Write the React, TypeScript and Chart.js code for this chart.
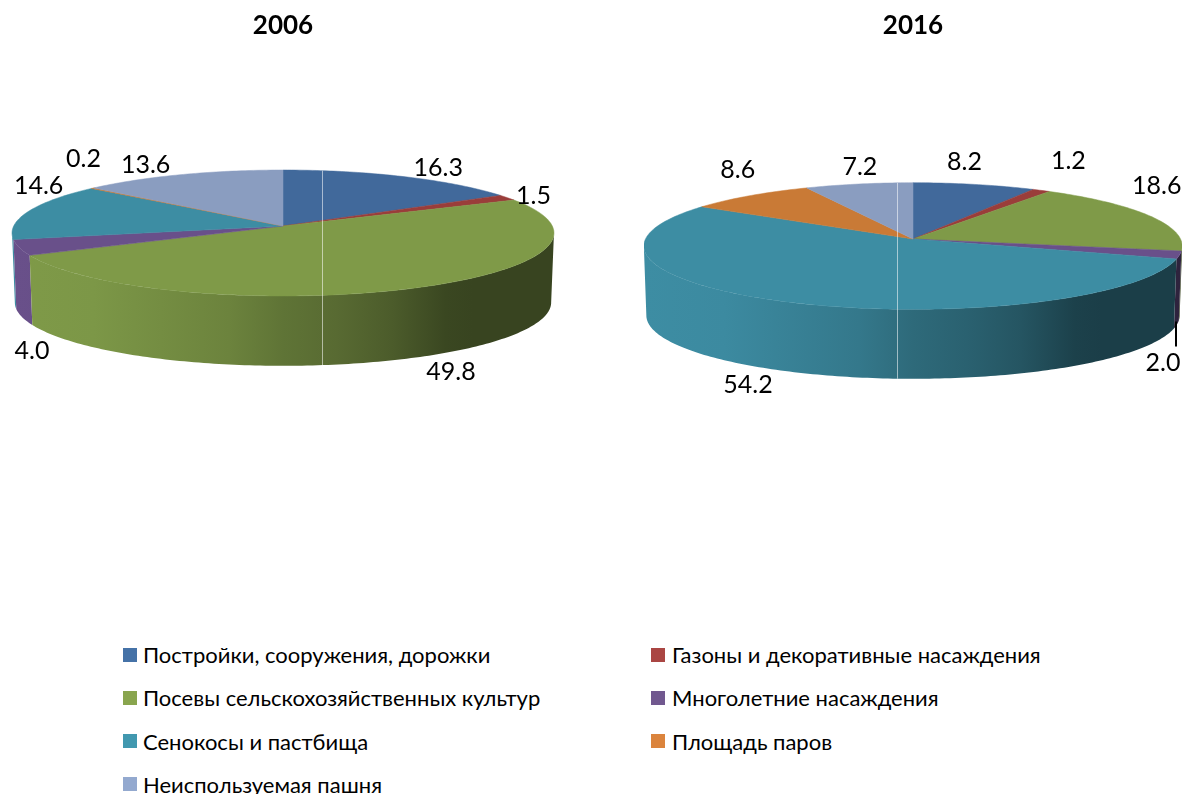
import React, { useEffect, useRef } from "react";
import { Chart, registerables } from "chart.js";

Chart.register(...registerables);

const categories = [
  "Постройки, сооружения, дорожки",
  "Газоны и декоративные насаждения",
  "Посевы сельскохозяйственных культур",
  "Многолетние насаждения",
  "Сенокосы и пастбища",
  "Площадь паров",
  "Неиспользуемая пашня",
];
const values2006 = [16.3, 1.5, 49.8, 4.0, 14.6, 0.2, 13.6];
const values2016 = [8.2, 1.2, 18.6, 2.0, 54.2, 8.6, 7.2];
const faceColors = ["#41699B", "#9A3D3A", "#7F9A48", "#69508A", "#3D8DA3", "#C97A36", "#8A9DC0"];
const legendColors = ["#4572A7", "#AA4643", "#89A54E", "#71588F", "#4198AF", "#DB843D", "#93A9CF"];

const labelDx2006 = [35, 26, 37, 10, 10, -9, -36];
const labelDy2006 = [-9, -2, 14, 34, -25, -29, -10];
const labelDx2016 = [-10, 27, 7, -14, -38, -12, 1];
const labelDy2016 = [-22, -29, -30, 38, 14, -26, -17];

const shadeStops: [number, number][] = [
  [0, 1], [0.15, 0.98], [0.4, 0.85], [0.5, 0.75], [0.6, 0.69], [0.7, 0.6], [0.8, 0.46], [0.85, 0.44], [1, 0.44],
];

const FONT = "Lato, Carlito, 'Open Sans', sans-serif";
const PERSP = 0.111;

type PieCfg = {
  y0: number; R: number; K: number; y0b: number; Rb: number; Kb: number;
  dx: number[]; dy: number[]; seam: number; leader: number;
};

function shade(hex: string, f: number) {
  const n = parseInt(hex.slice(1), 16);
  const c = [(n >> 16) & 255, (n >> 8) & 255, n & 255].map((v) => Math.round(v * f));
  return `rgb(${c[0]},${c[1]},${c[2]})`;
}

function makePlugin(cfg: PieCfg) {
  return {
    id: "pie3d",
    beforeDatasetsDraw(chart: any) {
      const ctx = chart.ctx;
      const arcs = chart.getDatasetMeta(0).data;
      const x0 = arcs[0].x;
      const colors = chart.data.datasets[0].backgroundColor;
      const values = chart.data.datasets[0].data;
      const proj = (t: number, bottom: boolean) => {
        const u = Math.sin(t), v = -Math.cos(t), d = 1 - PERSP * v;
        return bottom
          ? { x: x0 + (cfg.Rb * u) / d, y: cfg.y0b + (cfg.Kb * v) / d }
          : { x: x0 + (cfg.R * u) / d, y: cfg.y0 + (cfg.K * v) / d };
      };
      const range = (a: any) => [a.startAngle + Math.PI / 2, a.endAngle + Math.PI / 2];
      const sweep = (a: number, b: number) => {
        const n = Math.max(2, Math.ceil(((b - a) * 180) / Math.PI));
        return Array.from({ length: n + 1 }, (_, i) => a + ((b - a) * i) / n);
      };
      const visA = Math.PI / 2 + Math.asin(PERSP);
      const visB = 2 * Math.PI - visA;
      const left = x0 - cfg.R - 2;
      const right = x0 + cfg.R + 2;

      // walls, outermost first
      const order = arcs
        .map((a: any, i: number) => ({ a, i }))
        .sort((p: any, q: any) => {
          const m = (e: any) => Math.abs((e.startAngle + e.endAngle) / 2 + Math.PI / 2 - Math.PI);
          return m(q.a) - m(p.a);
        });
      for (const { a, i } of order) {
        const [s, e] = range(a);
        const from = Math.max(s, visA), to = Math.min(e, visB);
        if (to <= from) continue;
        const g = ctx.createLinearGradient(left, 0, right, 0);
        shadeStops.forEach(([p, f]) => g.addColorStop(p, shade(colors[i], f)));
        const ts = sweep(from, to);
        ctx.beginPath();
        ts.forEach((t, k) => {
          const p = proj(t, false);
          k ? ctx.lineTo(p.x, p.y) : ctx.moveTo(p.x, p.y);
        });
        ts.slice().reverse().forEach((t) => {
          const p = proj(t, true);
          ctx.lineTo(p.x, p.y);
        });
        ctx.closePath();
        ctx.fillStyle = g;
        ctx.fill();
      }

      // top faces
      arcs.forEach((a: any, i: number) => {
        const [s, e] = range(a);
        ctx.beginPath();
        ctx.moveTo(x0, cfg.y0);
        sweep(s, e).forEach((t) => {
          const p = proj(t, false);
          ctx.lineTo(p.x, p.y);
        });
        ctx.closePath();
        ctx.fillStyle = colors[i];
        ctx.strokeStyle = colors[i];
        ctx.lineWidth = 0.5;
        ctx.fill();
        ctx.stroke();
      });

      // thin vertical seam
      const sx = x0 + cfg.seam;
      let top = Infinity, bot = -Infinity;
      sweep(0, Math.PI * 2).concat(sweep(0, Math.PI * 2).map((t) => t + 0.008)).forEach((t) => {
        const a = proj(t, false), b = proj(t, true);
        if (Math.abs(a.x - sx) < 3) top = Math.min(top, a.y);
        if (Math.abs(b.x - sx) < 3) bot = Math.max(bot, b.y);
      });
      ctx.strokeStyle = "rgba(255,255,255,0.55)";
      ctx.lineWidth = 1;
      ctx.beginPath();
      ctx.moveTo(Math.round(sx) + 0.5, top);
      ctx.lineTo(Math.round(sx) + 0.5, bot);
      ctx.stroke();

      // value labels
      ctx.font = `25px ${FONT}`;
      ctx.textAlign = "center";
      ctx.textBaseline = "middle";
      arcs.forEach((a: any, i: number) => {
        const [s, e] = range(a);
        const m = (s + e) / 2;
        const front = m > visA && m < visB;
        const p = proj(m, front);
        const lx = p.x + cfg.dx[i], ly = p.y + cfg.dy[i];
        if (i === cfg.leader) {
          ctx.strokeStyle = "#000";
          ctx.lineWidth = 2;
          ctx.beginPath();
          ctx.moveTo(Math.round(p.x) - 1, p.y - 3);
          ctx.lineTo(Math.round(p.x) - 1, ly - 16);
          ctx.stroke();
        }
        ctx.fillStyle = "#000";
        ctx.fillText(values[i].toFixed(1), lx, ly);
      });
      return false;
    },
  };
}

function PieChart({ title, values, cfg, style }: { title: string; values: number[]; cfg: PieCfg; style: React.CSSProperties }) {
  const ref = useRef<HTMLCanvasElement>(null);
  useEffect(() => {
    const chart = new Chart(ref.current!, {
      type: "pie",
      data: {
        labels: categories,
        datasets: [{ data: values, backgroundColor: faceColors, borderWidth: 0 }],
      },
      options: {
        responsive: false,
        animation: false,
        events: [],
        plugins: {
          legend: { display: false },
          tooltip: { enabled: false },
          title: {
            display: true,
            text: title,
            color: "#000",
            font: { family: FONT, size: 26, weight: "bold" },
            padding: { top: 10, bottom: 10 },
          },
        },
      },
      plugins: [makePlugin(cfg)],
    } as any);
    return () => chart.destroy();
  }, []);
  return <canvas ref={ref} width={style.width as number} height={style.height as number} style={{ position: "absolute", ...style }} />;
}

const cfg2006: PieCfg = {
  y0: 226, R: 269.3, K: 62.2, y0b: 295.5, Rb: 266.5, Kb: 62.5,
  dx: labelDx2006, dy: labelDy2006, seam: 39, leader: -1,
};
const cfg2016: PieCfg = {
  y0: 239, R: 267.5, K: 62.5, y0b: 308.5, Rb: 265, Kb: 62.5,
  dx: labelDx2016, dy: labelDy2016, seam: -16, leader: 3,
};

export default function App() {
  return (
    <div style={{ position: "absolute", left: 0, top: 0, width: 1183, height: 794, overflow: "hidden", background: "#fff" }}>
      <PieChart title="2006" values={values2006} cfg={cfg2006} style={{ left: 0, top: 0, width: 566, height: 420 }} />
      <PieChart title="2016" values={values2016} cfg={cfg2016} style={{ left: 644, top: 0, width: 538, height: 420 }} />
      {categories.map((c, i) => {
        const col = i % 2;
        const row = Math.floor(i / 2);
        return (
          <div
            key={c}
            style={{
              position: "absolute",
              left: col ? 651 : 123,
              top: 654.5 + row * 43.3 - 15,
              height: 30,
              display: "flex",
              alignItems: "center",
              whiteSpace: "nowrap",
              fontFamily: FONT,
              fontSize: 22,
              color: "#000",
            }}
          >
            <span style={{ width: 14, height: 14, background: legendColors[i], marginRight: col ? 7 : 6, display: "inline-block", flex: "none" }} />
            {c}
          </div>
        );
      })}
    </div>
  );
}
